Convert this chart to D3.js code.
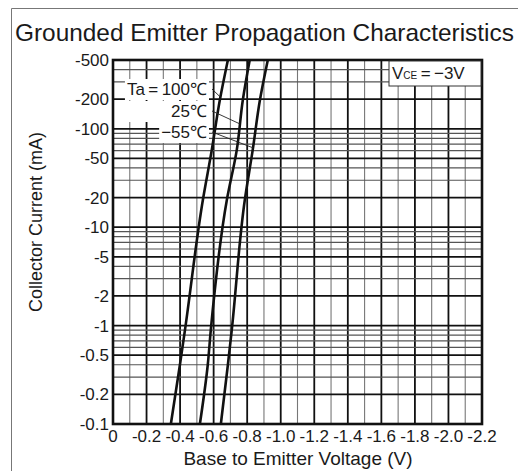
<!DOCTYPE html>
<html>
<head>
<meta charset="utf-8">
<script src="https://cdn.jsdelivr.net/npm/d3@7"></script>
<style>
body { margin: 0; background: #fff; }
svg { background: #fff; }
text { font-family: "Liberation Sans", Arial, Helvetica, sans-serif; fill: #1a1a1a; }
</style>
</head>
<body>
<script>
var width = 518;
var height = 471;

// data (magnitudes; the chart shows them negative)
var xTicks = [0, 0.2, 0.4, 0.6, 0.8, 1.0, 1.2, 1.4, 1.6, 1.8, 2.0, 2.2];
var xTickLabels = ['0', '-0.2', '-0.4', '-0.6', '-0.8', '-1.0', '-1.2', '-1.4', '-1.6', '-1.8', '-2.0', '-2.2'];
var yTicks = [500, 200, 100, 50, 20, 10, 5, 2, 1, 0.5, 0.2, 0.1];
var yTickLabels = ['-500', '-200', '-100', '-50', '-20', '-10', '-5', '-2', '-1', '-0.5', '-0.2', '-0.1'];

var currents = [0.1, 0.4, 0.9, 19, 61, 196, 500];
var vbe100 = [0.345, 0.399, 0.429, 0.536, 0.589, 0.637, 0.685];
var vbe25 = [0.518, 0.565, 0.583, 0.679, 0.738, 0.774, 0.815];
var vbeM55 = [0.643, 0.685, 0.708, 0.786, 0.833, 0.876, 0.923];

var tempLabels = ['Ta\u2009=\u2009100\u2103', '25\u2103', '\u221255\u2103'];
// where each leader line touches its curve [V, mA]
var leaderEnds = [[0.64, 210], [0.757, 112], [0.835, 64]];

var svg = d3.select('body').append('svg')
  .attr('width', width)
  .attr('height', height);

// outer frame
svg.append('path')
  .attr('d', 'M11.5,' + height + 'V8.5H' + width)
  .attr('fill', 'none')
  .attr('stroke', '#777')
  .attr('stroke-width', 1);

var x = d3.scaleLinear().domain([0, 2.2]).range([113, 482]);
var y = d3.scaleLog().domain([0.1, 500]).range([424, 60]);

// vertical grid
var vLines = d3.range(1, 22).map(function (i) { return i / 10; });
svg.append('g').selectAll('line')
  .data(vLines)
  .enter().append('line')
  .attr('x1', function (d) { return x(d); })
  .attr('x2', function (d) { return x(d); })
  .attr('y1', y(500))
  .attr('y2', y(0.1))
  .attr('stroke', function (d, i) { return i % 2 ? '#111' : '#777'; })
  .attr('stroke-width', function (d, i) { return i % 2 ? 1.8 : 1.1; });

// horizontal grid, 1..9 in each decade
var hLines = [];
[0.1, 1, 10, 100].forEach(function (dec) {
  d3.range(1, 10).forEach(function (m) {
    var v = +(dec * m).toPrecision(3);
    if (v > 0.1 && v < 500) hLines.push({ v: v, m: m });
  });
});
svg.append('g').selectAll('line')
  .data(hLines)
  .enter().append('line')
  .attr('x1', x(0))
  .attr('x2', x(2.2))
  .attr('y1', function (d) { return y(d.v); })
  .attr('y2', function (d) { return y(d.v); })
  .attr('stroke', function (d) { return (d.m === 1 || d.m === 2 || d.m === 5) ? '#111' : '#555'; })
  .attr('stroke-width', function (d) { return (d.m === 1 || d.m === 2 || d.m === 5) ? 1.7 : 1.2; });

// plot frame
svg.append('rect')
  .attr('x', x(0))
  .attr('y', y(500))
  .attr('width', x(2.2) - x(0))
  .attr('height', y(0.1) - y(500))
  .attr('fill', 'none')
  .attr('stroke', '#111')
  .attr('stroke-width', 2.6);

// curves
var line = d3.line()
  .x(function (d) { return x(d[0]); })
  .y(function (d) { return y(d[1]); })
  .curve(d3.curveMonotoneY);

[vbe100, vbe25, vbeM55].forEach(function (vs) {
  svg.append('path')
    .datum(vs.map(function (v, i) { return [v, currents[i]]; }))
    .attr('d', line)
    .attr('fill', 'none')
    .attr('stroke', '#111')
    .attr('stroke-width', 2.6);
});

// temperature labels with white backing
var labelY = [95, 117, 138];
var lg = svg.append('g');
tempLabels.forEach(function (t, i) {
  var bg = lg.append('rect').attr('fill', '#fff');
  var tx = lg.append('text')
    .attr('x', 207)
    .attr('y', labelY[i])
    .attr('text-anchor', 'end')
    .style('font-size', '17px')
    .text(t);
  var b = tx.node().getBBox();
  var left = i === 1 ? x(0) + 2 : b.x - 2;
  bg.attr('x', left).attr('y', b.y - 1)
    .attr('width', b.x + b.width + 2 - left).attr('height', b.height + 2);
  lg.append('line')
    .attr('x1', 212).attr('y1', labelY[i] - 6)
    .attr('x2', x(leaderEnds[i][0])).attr('y2', y(leaderEnds[i][1]))
    .attr('stroke', '#222')
    .attr('stroke-width', 0.9);
});

// VCE box
svg.append('rect')
  .attr('x', 389).attr('y', y(500) + 1)
  .attr('width', x(2.2) - 390).attr('height', 25)
  .attr('fill', '#fff')
  .attr('stroke', '#333')
  .attr('stroke-width', 1);
var vce = svg.append('text')
  .attr('x', 392).attr('y', 79)
  .style('font-size', '17px');
vce.append('tspan').text('V');
vce.append('tspan').style('font-size', '10px').text('CE');
vce.append('tspan').text('\u2009=\u2009\u22123V');

// tick labels
svg.append('g').selectAll('text')
  .data(xTicks)
  .enter().append('text')
  .attr('x', function (d) { return x(d); })
  .attr('y', 442)
  .attr('text-anchor', 'middle')
  .style('font-size', '17px')
  .text(function (d, i) { return xTickLabels[i]; });

svg.append('g').selectAll('text')
  .data(yTicks)
  .enter().append('text')
  .attr('x', 109)
  .attr('y', function (d) { return y(d) + 6; })
  .attr('text-anchor', 'end')
  .style('font-size', '17px')
  .text(function (d, i) { return yTickLabels[i]; });

// titles
svg.append('text')
  .attr('x', 15).attr('y', 41)
  .style('font-size', '24.4px')
  .text('Grounded Emitter Propagation Characteristics');

svg.append('text')
  .attr('x', 298).attr('y', 465)
  .attr('text-anchor', 'middle')
  .style('font-size', '19px')
  .text('Base to Emitter Voltage (V)');

svg.append('text')
  .attr('transform', 'translate(42,222) rotate(-90)')
  .attr('text-anchor', 'middle')
  .style('font-size', '18px')
  .text('Collector Current (mA)');
</script>
</body>
</html>
